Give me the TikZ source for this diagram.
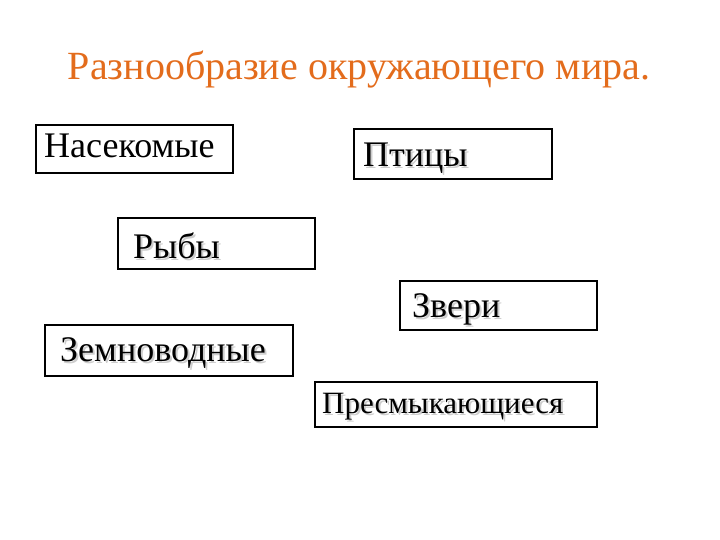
\documentclass[tikz,border=0pt]{standalone}
\usepackage{fontspec}
\setmainfont{Liberation Serif}
\definecolor{ttl}{RGB}{227,108,28}
\definecolor{shd}{RGB}{205,205,205}
\begin{document}
\begin{tikzpicture}[x=1pt,y=-1pt,
  box/.style={draw=black,line width=1.6pt},
  lbl/.style={anchor=west,inner sep=0pt,font=\fontsize{36}{38}\selectfont},
  sm/.style={font=\fontsize{31}{33}\selectfont},
  sh/.style={lbl,text=shd}]
\useasboundingbox (0,0) rectangle (720,540);
\node[font=\fontsize{40}{44}\selectfont,text=ttl] (t) at (359,70) {Разнообразие окружающего мира.};
\draw[box] (36,125) rectangle (233,173);
\node[lbl] (a) at (44,146) {Насекомые};
\draw[box] (354,129) rectangle (552,179);
\node[sh] at (365,160) {Птицы};
\node[lbl] (b) at (363,158) {Птицы};
\draw[box] (118,218) rectangle (315,269);
\node[sh] at (135,248) {Рыбы};
\node[lbl] (c) at (133,246) {Рыбы};
\draw[box] (400,281) rectangle (597,330);
\node[sh] at (414,311) {Звери};
\node[lbl] (d) at (412,309) {Звери};
\draw[box] (45,325) rectangle (293,376);
\node[sh] at (62,355) {Земноводные};
\node[lbl] (e) at (60,353) {Земноводные};
\draw[box] (315,382) rectangle (597,427);
\node[sh,sm] at (324,409) {Пресмыкающиеся};
\node[lbl,sm] (f) at (322,407) {Пресмыкающиеся};
\end{tikzpicture}
\end{document}
